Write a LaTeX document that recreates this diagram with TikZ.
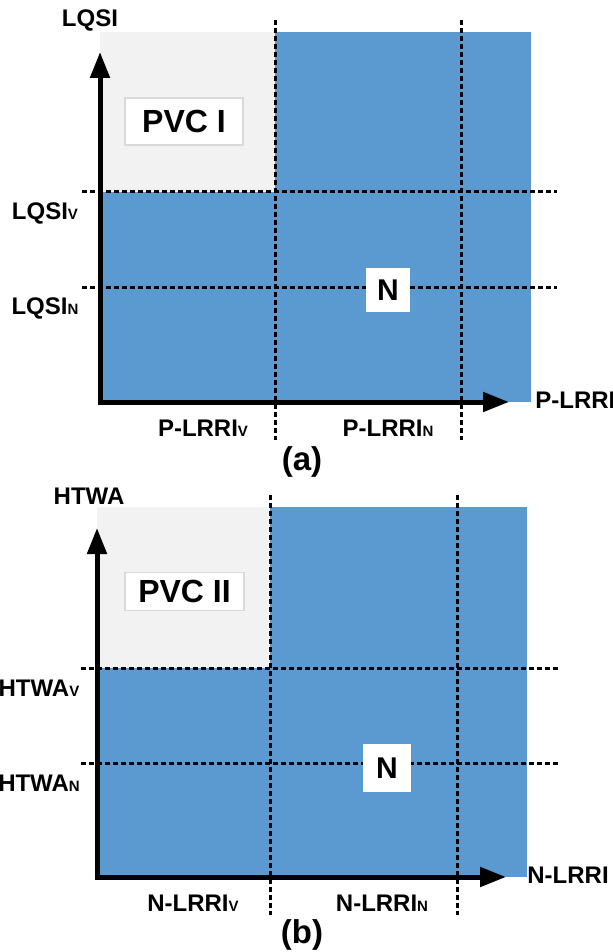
\documentclass[tikz,border=0pt]{standalone}
\usepackage{fontspec}
\setmainfont{Liberation Sans}
\usepackage{tikz}
\usetikzlibrary{arrows.meta,positioning}
\definecolor{region}{RGB}{91,154,209}
\definecolor{pvc}{RGB}{242,242,242}
\newcommand{\lowidx}[1]{{\fontsize{7.5}{8}\selectfont #1}}

\begin{document}
\begin{tikzpicture}[
    x=0.5pt, y=-0.5pt,
    axis/.style={line width=2.5pt, line join=miter,
                 {Triangle[length=13pt,width=9.5pt]}-{Triangle[length=13pt,width=9.5pt]}},
    grid/.style={line width=1.5pt, dash pattern=on 2.5pt off 1.5pt},
    lbl/.style={inner sep=0pt, font=\fontsize{12}{14}\selectfont\bfseries},
    tag/.style={rectangle, fill=white, draw=black!15, line width=0.6pt,
                inner sep=0pt, font=\fontsize{16}{18}\selectfont\bfseries},
    panelcap/.style={inner sep=0pt, font=\fontsize{16.5}{18}\selectfont\bfseries}
]
    \useasboundingbox (0,0) rectangle (613,952);

    % ---------- panel (a) ----------
    \fill[region] (100,32) rectangle (531,402);
    \fill[pvc] (100,32) rectangle (275,192);

    % grid lines
    \coordinate (av1t) at (275,20);  \coordinate (av1b) at (275,440);
    \coordinate (av2t) at (461,20);  \coordinate (av2b) at (461,440);
    \coordinate (ah1l) at (82,192);  \coordinate (ah1r) at (557,192);
    \coordinate (ah2l) at (82,287);  \coordinate (ah2r) at (557,287);
    \draw[grid] (av1t) -- (av1b);
    \draw[grid] (av2t) -- (av2b);
    \draw[grid] (ah1l) -- (ah1r);
    \draw[grid] (ah2l) -- (ah2r);

    % axes
    \coordinate (ao) at (100,402);
    \coordinate (ay) at (100,52);
    \coordinate (ax) at (509,402);
    \draw[axis] (ay) -- (ao) -- (ax);

    % labels
    \node[lbl] (lqsi) at (90,20) {LQSI};
    \node[lbl] (lqsiv) at (45,213) {LQSI\lowidx{V}};
    \node[lbl] (lqsin) at (45,308) {LQSI\lowidx{N}};
    \node[lbl, anchor=west] (plrri) at (535,400) {P-LRRI};
    \node[lbl] (plrriv) at (203,428) {P-LRRI\lowidx{V}};
    \node[lbl] (plrrin) at (388,428) {P-LRRI\lowidx{N}};
    \node[panelcap] (capa) at (302,462) {(a)};

    % regions
    \node[tag, minimum width=59pt, minimum height=23.5pt] (pvc1) at (184,121.5) {PVC I};
    \node[tag, draw=none, minimum width=22pt, minimum height=22pt,
          font=\fontsize{15}{17}\selectfont\bfseries] (na) at (388,290) {N};

    % ---------- panel (b) ----------
    \fill[region] (97,507) rectangle (527,877);
    \fill[pvc] (97,507) rectangle (270,668);

    % grid lines
    \coordinate (bv1t) at (270,495);  \coordinate (bv1b) at (270,915);
    \coordinate (bv2t) at (457,495);  \coordinate (bv2b) at (457,915);
    \coordinate (bh1l) at (81,668);   \coordinate (bh1r) at (559,668);
    \coordinate (bh2l) at (81,763);   \coordinate (bh2r) at (559,763);
    \draw[grid] (bv1t) -- (bv1b);
    \draw[grid] (bv2t) -- (bv2b);
    \draw[grid] (bh1l) -- (bh1r);
    \draw[grid] (bh2l) -- (bh2r);

    % axes
    \coordinate (bo) at (97,877);
    \coordinate (by) at (97,528);
    \coordinate (bx) at (506,877);
    \draw[axis] (by) -- (bo) -- (bx);

    % labels
    \node[lbl] (htwa) at (89,496) {HTWA};
    \node[lbl] (htwav) at (39,688) {HTWA\lowidx{V}};
    \node[lbl] (htwan) at (39,783) {HTWA\lowidx{N}};
    \node[lbl, anchor=west] (nlrri) at (527,875) {N-LRRI};
    \node[lbl] (nlrriv) at (193,903) {N-LRRI\lowidx{V}};
    \node[lbl] (nlrrin) at (382,903) {N-LRRI\lowidx{N}};
    \node[panelcap] (capb) at (302,935) {(b)};

    % regions
    \node[tag, minimum width=59.5pt, minimum height=19pt] (pvc2) at (184.5,591.5) {PVC II};
    \node[tag, draw=none, minimum width=24pt, minimum height=24pt,
          font=\fontsize{15}{17}\selectfont\bfseries] (nb) at (387,768) {N};
\end{tikzpicture}
\end{document}
